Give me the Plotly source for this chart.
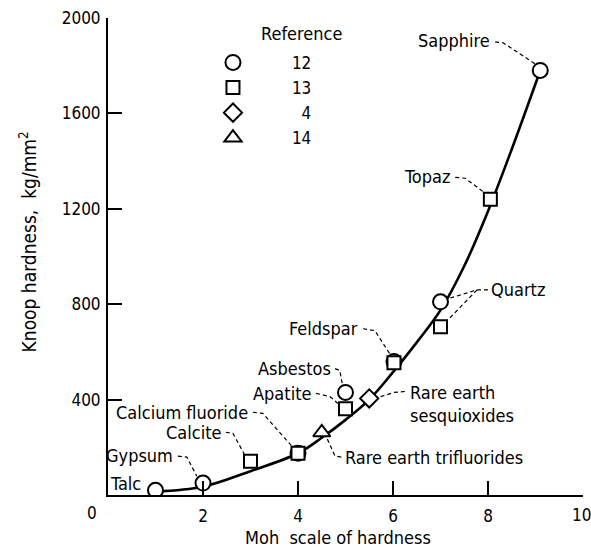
import plotly.graph_objects as go

FONT = "DejaVu Sans Condensed"

# Moh hardness / Knoop hardness (kg/mm^2), grouped by reference
ref12_x = [1, 2, 4, 5, 6.02, 7, 9.1]          # circles
ref12_y = [20, 50, 175, 430, 560, 810, 1780]
ref13_x = [3, 4, 5, 6.02, 7, 8.05]             # squares
ref13_y = [142, 175, 362, 555, 705, 1240]
ref4_x = [5.5]                                 # diamond
ref4_y = [405]
ref14_x = [4.5]                                # triangle
ref14_y = [262]

# fitted curve
curve_x = [1, 2, 3, 4, 4.5, 5, 5.5, 6, 6.5, 7, 7.5, 8, 8.5, 9.1]
curve_y = [15, 35, 100, 175, 240, 315, 400, 515, 640, 775, 960, 1190, 1450, 1780]

x_ticks = [2, 4, 6, 8, 10]
x_ticktext = ["2", "4", "6", "8", ""]   # "10" placed as annotation at the edge
y_ticks = [400, 800, 1200, 1600, 2000]

# label text, x, y, xanchor
labels = [
    ("Sapphire", 8.08, 1904, "right"),
    ("Topaz", 7.24, 1336, "right"),
    ("Quartz", 8.02, 860, "left"),
    ("Feldspar", 5.31, 697, "right"),
    ("Asbestos", 4.74, 530, "right"),
    ("Apatite", 4.32, 426, "right"),
    ("Rare earth<br>sesquioxides", 6.32, 380, "left"),
    ("Rare earth trifluorides", 4.95, 159, "left"),
    ("Calcium fluoride", 2.99, 347, "right"),
    ("Calcite", 2.42, 263, "right"),
    ("Gypsum", 1.41, 167, "right"),
    ("Talc", 0.0, 50, "left"),
]

# dashed leader lines
leaders = [
    [(8.15, 1900), (8.32, 1896), (8.99, 1808)],
    [(7.31, 1332), (7.52, 1328), (7.89, 1273)],
    [(8.0, 860), (7.77, 860), (7.14, 822)],
    [(7.77, 860), (7.14, 731)],
    [(5.37, 697), (5.62, 689), (5.94, 589)],
    [(4.78, 530), (4.88, 522), (4.93, 468)],
    [(4.38, 426), (4.67, 413), (4.84, 384)],
    [(6.25, 434), (6.02, 430), (5.62, 405)],
    [(4.91, 159), (4.78, 163), (4.61, 238)],
    [(3.05, 347), (3.26, 342), (3.87, 205)],
    [(2.48, 263), (2.63, 259), (2.88, 167)],
    [(1.47, 163), (1.66, 159), (1.87, 79)],
]

fig = go.Figure()

lx, ly = [], []
for seg in leaders:
    for (a, b) in seg:
        lx.append(a)
        ly.append(b)
    lx.append(None)
    ly.append(None)
fig.add_trace(go.Scatter(x=lx, y=ly, mode="lines", showlegend=False, hoverinfo="skip",
                         line=dict(color="black", width=1.2, dash="4px,3px")))

fig.add_trace(go.Scatter(x=curve_x, y=curve_y, mode="lines", showlegend=False,
                         line=dict(color="black", width=2.6, shape="spline", smoothing=1.0)))

mk = dict(color="white", line=dict(color="black", width=2))
fs = "\u2007"
fig.add_trace(go.Scatter(x=ref12_x, y=ref12_y, mode="markers", name=fs * 4 + "12",
                         marker=dict(symbol="circle", size=15, **mk)))
fig.add_trace(go.Scatter(x=ref13_x, y=ref13_y, mode="markers", name=fs * 4 + "13",
                         marker=dict(symbol="square", size=13, **mk)))
fig.add_trace(go.Scatter(x=ref4_x, y=ref4_y, mode="markers", name=fs * 5 + "4",
                         marker=dict(symbol="diamond", size=14, **mk)))
fig.add_trace(go.Scatter(x=ref14_x, y=ref14_y, mode="markers", name=fs * 4 + "14",
                         marker=dict(symbol="triangle-up", size=15, **mk)))

annotations = []
for (t, x, y, xa) in labels:
    annotations.append(dict(text=t, x=x, y=y, xref="x", yref="y", xanchor=xa, yanchor="middle",
                            align="left", showarrow=False, font=dict(family=FONT, size=18, color="black")))
annotations.append(dict(text="Reference", x=(301 - 108) / 475, y=(495 - 32) / 479,
                        xref="paper", yref="paper", xanchor="center", yanchor="middle",
                        showarrow=False, font=dict(family=FONT, size=18, color="black")))
annotations.append(dict(text="0", x=-0.0337, y=-0.0376, xref="paper", yref="paper",
                        xanchor="center", yanchor="middle",
                        showarrow=False, font=dict(family=FONT, size=17, color="black")))
annotations.append(dict(text="10", x=10, y=-0.0418, xref="x", yref="paper",
                        xanchor="center", yanchor="middle", xshift=-2,
                        showarrow=False, font=dict(family=FONT, size=17, color="black")))
annotations.append(dict(text="Knoop hardness,  kg/mm<sup>2</sup>", x=-0.168, y=0.53,
                        xref="paper", yref="paper", textangle=-90, showarrow=False,
                        xanchor="center", yanchor="middle",
                        font=dict(family=FONT, size=19, color="black")))
annotations.append(dict(text="Moh  scale of hardness", x=0.484, y=-0.0898,
                        xref="paper", yref="paper", showarrow=False,
                        xanchor="center", yanchor="middle",
                        font=dict(family=FONT, size=18, color="black")))

axis_common = dict(showline=True, linecolor="black", linewidth=2, ticks="inside", ticklen=14,
                   tickwidth=2, tickcolor="black", showgrid=False, zeroline=False,
                   tickfont=dict(family=FONT, size=17, color="black"))

fig.update_layout(
    width=591, height=550,
    margin=dict(l=108, r=8, t=16, b=55),
    paper_bgcolor="white", plot_bgcolor="white",
    xaxis=dict(range=[0, 10], tickvals=x_ticks, ticktext=x_ticktext, ticklabelstandoff=5,
               **axis_common),
    yaxis=dict(range=[0, 2000], tickvals=y_ticks, ticklabelstandoff=2, **axis_common),
    annotations=annotations,
    showlegend=True,
    legend=dict(x=0.221, y=(495 - 43) / 479, xanchor="left", yanchor="top",
                bgcolor="rgba(0,0,0,0)",
                font=dict(family=FONT, size=17, color="black")),
)

fig.write_html("out.html", config={"displayModeBar": False},
               post_script="document.body.style.margin='0';")
